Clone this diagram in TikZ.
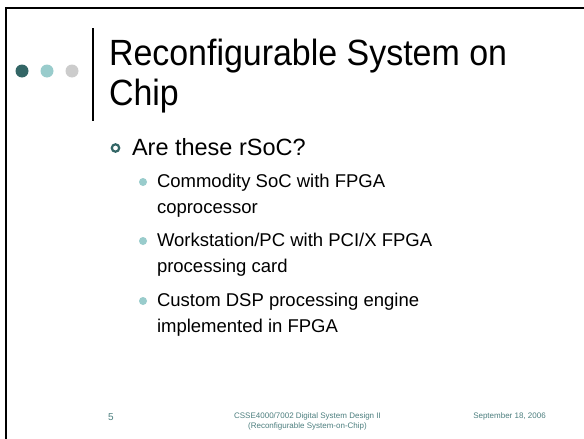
\documentclass[tikz,border=0pt]{standalone}
\usepackage{fontspec}
\setmainfont{Liberation Sans}
\definecolor{tealdark}{HTML}{336666}
\definecolor{teallight}{HTML}{99CCCC}
\definecolor{dotgrey}{HTML}{CCCCCC}
\definecolor{foot}{HTML}{4D7F7F}
\tikzset{
  txt/.style={anchor=base west, inner sep=0pt, outer sep=0pt},
  title/.style={txt, font=\fontsize{36.5}{44}\selectfont},
  lvlone/.style={txt, font=\fontsize{23.5}{28}\selectfont},
  lvltwo/.style={txt, font=\fontsize{18.5}{22}\selectfont},
  footer/.style={inner sep=0pt, text=foot, font=\fontsize{8}{10}\selectfont, align=center, anchor=base},
}
\begin{document}
\begin{tikzpicture}[x=1pt,y=-1pt]
\useasboundingbox (0,0) rectangle (584,439);
\fill[white] (0,0) rectangle (584,439);
% frame (left and top edges)
\draw[line width=2pt] (5.5,439) -- (5.5,7.5) -- (584,7.5);
% three dots
\fill[tealdark] (22,71) circle (6.5);
\fill[teallight] (47,71) circle (6.5);
\fill[dotgrey] (72,71) circle (6.5);
% title bar
\draw[line width=1.4pt] (93,28) -- (93,121);
% title
\node[title] (t1) at (109,65) {\scalebox{0.93}[1]{Reconfigurable System on}};
\node[title] (t2) at (109,105) {\scalebox{0.93}[1]{Chip}};
% level 1
\draw[tealdark, line width=2.2pt] (115.5,148) circle (3.7);
\node[lvlone] (l1) at (132,155) {Are these rSoC?};
% level 2
\fill[teallight] (143,182) circle (4);
\node[lvltwo] (a1) at (157,187) {Commodity SoC with FPGA};
\node[lvltwo] (a2) at (157,213) {coprocessor};
\fill[teallight] (143,241) circle (4);
\node[lvltwo] (b1) at (157,246) {Workstation/PC with PCI/X FPGA};
\node[lvltwo] (b2) at (157,272) {processing card};
\fill[teallight] (143,301) circle (4);
\node[lvltwo] (c1) at (157,306) {Custom DSP processing engine};
\node[lvltwo] (c2) at (157,332) {implemented in FPGA};
% footer
\node[inner sep=0pt, anchor=base, text=foot, font=\fontsize{10}{12}\selectfont] (pg) at (111,420) {5};
\node[footer] (ft) at (307.5,428) {CSSE4000/7002 Digital System Design II\\(Reconfigurable System-on-Chip)};
\node[footer] (dt) at (509.5,418) {September 18, 2006};
\end{tikzpicture}
\end{document}
